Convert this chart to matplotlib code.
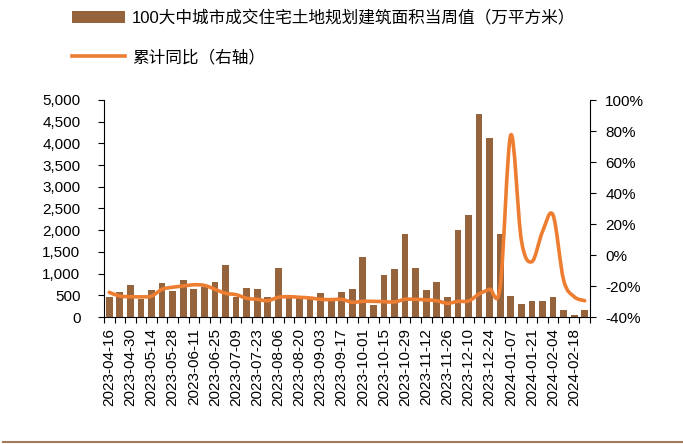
import matplotlib
matplotlib.use("Agg")
import matplotlib.pyplot as plt
import numpy as np
from matplotlib.path import Path
from matplotlib.patches import PathPatch, Patch
from matplotlib.lines import Line2D
from matplotlib.ticker import FuncFormatter, MultipleLocator, FixedLocator

plt.rcParams['font.family'] = ['Liberation Sans', 'Noto Sans CJK SC']
plt.rcParams['axes.unicode_minus'] = False

# weekly dates (category axis)
weeks = ['2023-04-16', '2023-04-23', '2023-04-30', '2023-05-07', '2023-05-14', '2023-05-21',
         '2023-05-28', '2023-06-04', '2023-06-11', '2023-06-18', '2023-06-25', '2023-07-02',
         '2023-07-09', '2023-07-16', '2023-07-23', '2023-07-30', '2023-08-06', '2023-08-13',
         '2023-08-20', '2023-08-27', '2023-09-03', '2023-09-10', '2023-09-17', '2023-09-24',
         '2023-10-01', '2023-10-08', '2023-10-15', '2023-10-22', '2023-10-29', '2023-11-05',
         '2023-11-12', '2023-11-19', '2023-11-26', '2023-12-03', '2023-12-10', '2023-12-17',
         '2023-12-24', '2023-12-31', '2024-01-07', '2024-01-14', '2024-01-21', '2024-01-28',
         '2024-02-04', '2024-02-11', '2024-02-18', '2024-02-25']

# weekly planned floor area (10k sqm)
area = [453, 576, 730, 422, 615, 790, 607, 845, 645, 680, 800, 1190, 470, 660, 640, 453,
        1120, 460, 450, 430, 553, 400, 584, 637, 1375, 275, 970, 1100, 1920, 1120, 615, 800,
        470, 2005, 2340, 4680, 4130, 1920, 485, 305, 375, 375, 455, 160, 45, 160]

# cumulative YoY (%)
yoy = [-24.1, -26.5, -26.9, -27.0, -26.5, -22.1, -20.8, -20.0, -19.2, -19.6, -22.1, -24.7,
       -25.6, -27.9, -28.6, -29.5, -27.3, -26.9, -27.3, -27.7, -28.6, -28.8, -28.6, -30.5,
       -29.9, -29.9, -30.1, -30.3, -28.6, -28.6, -29.0, -29.5, -31.2, -29.9, -29.7, -25.2,
       -22.1, -20.5, 77.4, 9.7, -4.3, 15.0, 25.8, -16.1, -26.9, -29.5]

bar_label = '100大中城市成交住宅土地规划建筑面积当周值（万平方米）'
line_label = '累计同比（右轴）'

bar_color = '#96643C'
line_color = '#ED7D31'

fig = plt.figure(figsize=(6.83, 4.44), dpi=100)
ax = fig.add_axes([104/683, 1-317/444, (590-104)/683, (317-100)/444])
x = np.arange(len(weeks))
ax.bar(x, area, width=0.64, color=bar_color, zorder=2)
ax.set_xlim(-0.5, len(weeks)-0.5)
ax.set_ylim(0, 5000)
ax.yaxis.set_major_locator(MultipleLocator(500))
ax.yaxis.set_major_formatter(FuncFormatter(lambda v, p: f'{int(v):,}'))

ax.set_xticks(x[::2])
ax.set_xticklabels(weeks[::2], rotation=90)
ax.xaxis.set_minor_locator(FixedLocator(np.arange(-0.5, len(weeks), 1.0)))
ax.tick_params(axis='x', which='major', length=0, pad=8, labelsize=11)
ax.tick_params(axis='x', which='minor', length=4, width=0.8, direction='out')
ax.tick_params(axis='y', which='major', length=4, width=0.8, direction='out', pad=13, labelsize=11)
for s in ['top', 'right']:
    ax.spines[s].set_visible(False)
ax.spines['left'].set_linewidth(0.8)
ax.spines['bottom'].set_linewidth(0.8)

ax2 = ax.twinx()
ax2.set_ylim(-40, 100)
ax2.yaxis.set_major_locator(MultipleLocator(20))
ax2.yaxis.set_major_formatter(FuncFormatter(lambda v, p: f'{v:.0f}%'))
ax2.tick_params(axis='y', length=4, width=0.8, direction='out', pad=7, labelsize=11)
for s in ['top', 'left', 'bottom']:
    ax2.spines[s].set_visible(False)
ax2.spines['right'].set_linewidth(0.8)

# smoothed line (Catmull-Rom -> cubic Bezier), drawn in data coordinates
pts = np.column_stack([x, yoy]).astype(float)
n = len(pts)
verts = [pts[0]]
codes = [Path.MOVETO]
for i in range(n - 1):
    p0 = pts[max(i - 1, 0)]
    p1 = pts[i]
    p2 = pts[i + 1]
    p3 = pts[min(i + 2, n - 1)]
    c1 = p1 + (p2 - p0) / 6.0
    c2 = p2 - (p3 - p1) / 6.0
    verts += [c1, c2, p2]
    codes += [Path.CURVE4] * 3
path = Path(verts, codes)
ax2.add_patch(PathPatch(path, facecolor='none', edgecolor=line_color, lw=2.6,
                        capstyle='round', joinstyle='round', zorder=3))

handles = [Patch(facecolor=bar_color, edgecolor='none'),
           Line2D([0], [0], color=line_color, lw=2.6)]
fig.legend(handles, [bar_label, line_label], loc='upper left',
           bbox_to_anchor=(72/683, 1-10/444), frameon=False, fontsize=12,
           borderpad=0, borderaxespad=0, handlelength=3.2, handletextpad=0.4,
           labelspacing=1.4, handleheight=0.7)

fig.add_artist(Line2D([3/683, 1], [1-442/444, 1-442/444], color='#A07A5A', lw=1.5))

fig.savefig('out.png', dpi=100)
